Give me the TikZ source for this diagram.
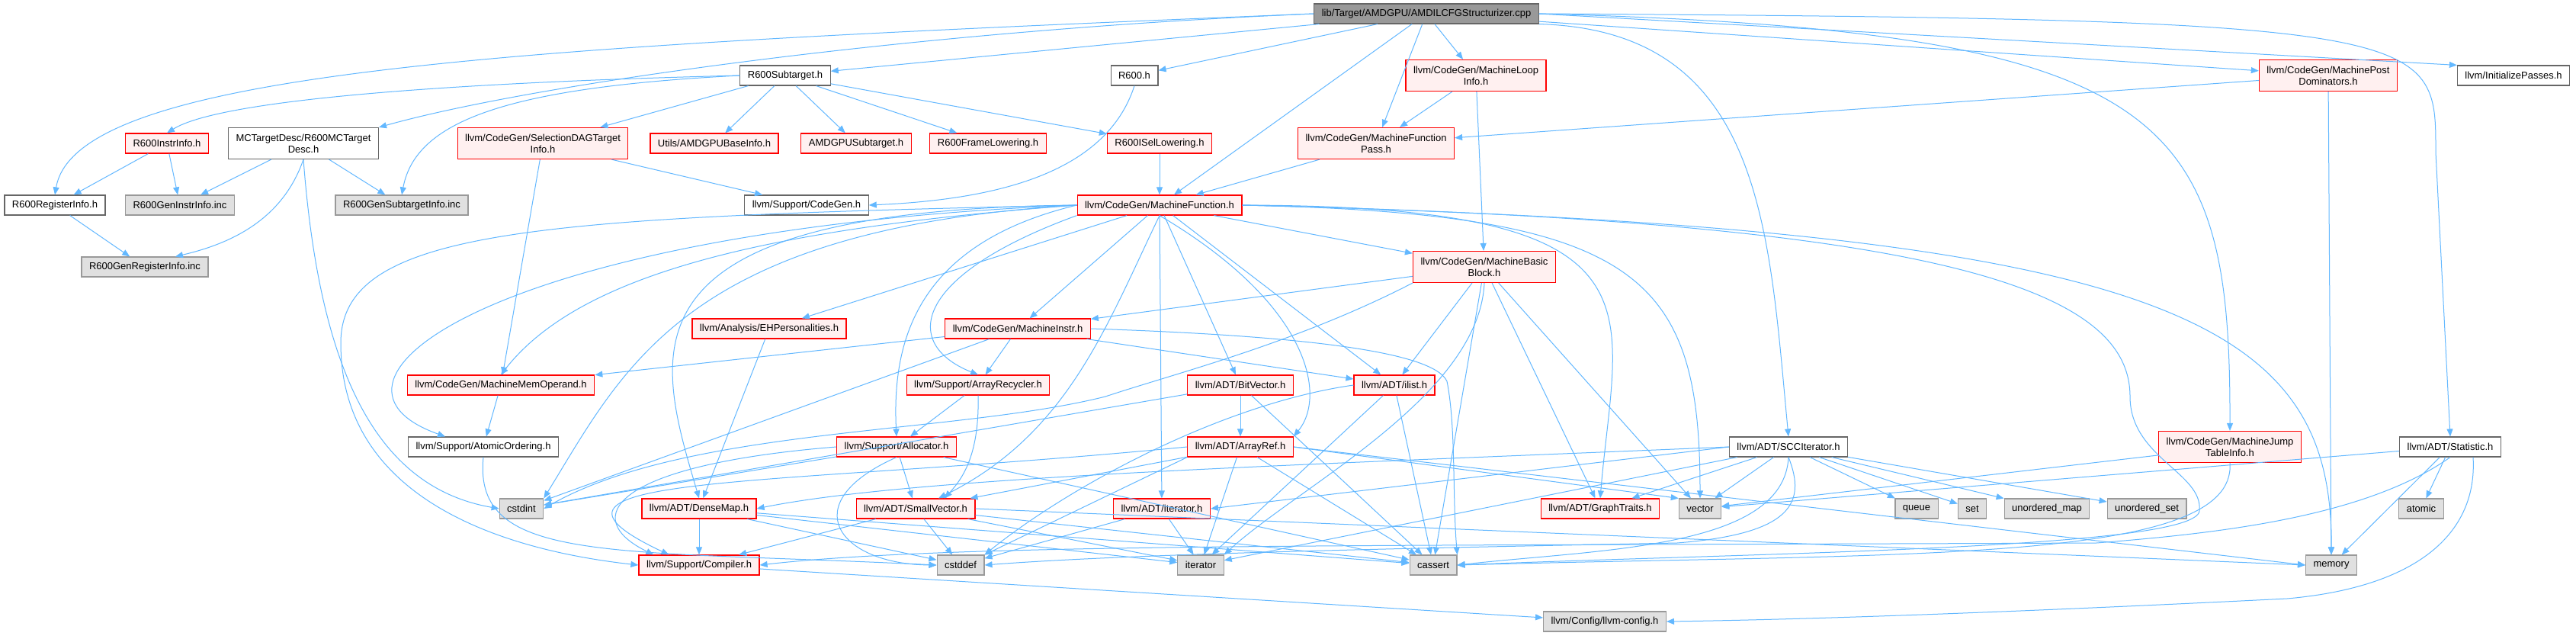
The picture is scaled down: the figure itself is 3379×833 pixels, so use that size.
\documentclass[tikz,border=0pt]{standalone}
\usepackage{fontspec}
\setmainfont{Liberation Sans}
\usetikzlibrary{arrows.meta, calc}
\definecolor{depblue}{HTML}{63B8FF}
\definecolor{hdrred}{HTML}{FF0000}
\definecolor{hdrpink}{HTML}{FFF0F0}
\definecolor{hdrdark}{HTML}{666666}
\definecolor{hdrgray}{HTML}{999999}
\definecolor{hdrlight}{HTML}{E0E0E0}
\newcommand{\hdrfont}{\fontsize{13}{15}\selectfont}

\begin{document}
\begin{tikzpicture}[
    x=1pt, y=-1pt,
    >={Triangle[length=10pt, width=8pt]},
    hdr/.style={rectangle, font=\hdrfont, text=black, align=center,
                minimum height=26pt, inner xsep=10pt, inner ysep=2pt},
    tall/.style={minimum height=41pt},
    redhdr/.style={hdr, draw=hdrred, fill=hdrpink, line width=1.2pt},
    plainhdr/.style={hdr, draw=hdrdark, fill=white, line width=1.1pt},
    syshdr/.style={hdr, draw=hdrgray, fill=hdrlight, line width=1.1pt},
    roothdr/.style={hdr, draw=hdrdark, fill=hdrgray, line width=1.1pt},
    dep/.style={->, draw=depblue, line width=1pt},
  ]

  % ══════════════════════════════════════════════════════
  % Canvas (pixel units, y pointing down)
  % ══════════════════════════════════════════════════════
  \fill[white] (0,0) rectangle (3379,833);
  \useasboundingbox (0,0) rectangle (3379,833);

  % ══════════════════════════════════════════════════════
  % Rank 0-1: source file and its direct includes
  % ══════════════════════════════════════════════════════
  \node[roothdr] (cpp) at (1871,18) {lib/Target/AMDGPU/AMDILCFGStructurizer.cpp};

  \node[plainhdr] (rsub)  at (1030,99) {R600Subtarget.h};
  \node[plainhdr] (r600h) at (1488,99) {R600.h};
  \node[redhdr, tall] (mloop) at (1936,99) {llvm/CodeGen/MachineLoop\\Info.h};
  \node[redhdr, tall] (mpdom) at (3054,99) {llvm/CodeGen/MachinePost\\Dominators.h};
  \node[plainhdr] (initp) at (3297,99) {llvm/InitializePasses.h};

  % ══════════════════════════════════════════════════════
  % Rank 2
  % ══════════════════════════════════════════════════════
  \node[redhdr] (rinstr) at (219,188) {R600InstrInfo.h};
  \node[plainhdr, tall] (mctd) at (398,188) {MCTargetDesc/R600MCTarget\\Desc.h};
  \node[redhdr, tall] (seldag) at (712,188) {llvm/CodeGen/SelectionDAGTarget\\Info.h};
  \node[redhdr] (amdbase) at (937,188) {Utils/AMDGPUBaseInfo.h};
  \node[redhdr] (amdsub)  at (1123,188) {AMDGPUSubtarget.h};
  \node[redhdr] (rframe)  at (1296,188) {R600FrameLowering.h};
  \node[redhdr] (risel)   at (1521,188) {R600ISelLowering.h};
  \node[redhdr, tall] (mfpass) at (1805,188) {llvm/CodeGen/MachineFunction\\Pass.h};

  % ══════════════════════════════════════════════════════
  % Rank 3-4
  % ══════════════════════════════════════════════════════
  \node[plainhdr] (rreg)      at (72,269)   {R600RegisterInfo.h};
  \node[syshdr]   (rgeninstr) at (236,269)  {R600GenInstrInfo.inc};
  \node[syshdr]   (rgensub)   at (527,269)  {R600GenSubtargetInfo.inc};
  \node[plainhdr] (codegen)   at (1058,269) {llvm/Support/CodeGen.h};
  \node[redhdr]   (mfunc)     at (1521,269) {llvm/CodeGen/MachineFunction.h};

  \node[syshdr] (rgenreg) at (190,350) {R600GenRegisterInfo.inc};
  \node[redhdr, tall] (mbb) at (1947,350) {llvm/CodeGen/MachineBasic\\Block.h};

  % ══════════════════════════════════════════════════════
  % Rank 5-7
  % ══════════════════════════════════════════════════════
  \node[redhdr] (ehpers) at (1009,431) {llvm/Analysis/EHPersonalities.h};
  \node[redhdr] (minstr) at (1335,431) {llvm/CodeGen/MachineInstr.h};

  \node[redhdr] (mmo)    at (657,505)  {llvm/CodeGen/MachineMemOperand.h};
  \node[redhdr] (arec)   at (1283,505) {llvm/Support/ArrayRecycler.h};
  \node[redhdr] (bitvec) at (1627,505) {llvm/ADT/BitVector.h};
  \node[redhdr] (ilist)  at (1829,505) {llvm/ADT/ilist.h};

  \node[plainhdr] (atomord) at (634,586)  {llvm/Support/AtomicOrdering.h};
  \node[redhdr]   (alloc)   at (1176,586) {llvm/Support/Allocator.h};
  \node[redhdr]   (aref)    at (1627,586) {llvm/ADT/ArrayRef.h};
  \node[plainhdr] (scc)     at (2346,586) {llvm/ADT/SCCIterator.h};
  \node[redhdr, tall] (mjt) at (2925,586) {llvm/CodeGen/MachineJump\\TableInfo.h};
  \node[plainhdr] (stat)    at (3214,586) {llvm/ADT/Statistic.h};

  % ══════════════════════════════════════════════════════
  % Rank 8-10: leaves
  % ══════════════════════════════════════════════════════
  \node[syshdr] (cstdint) at (684,667)  {cstdint};
  \node[redhdr] (dmap)    at (917,667)  {llvm/ADT/DenseMap.h};
  \node[redhdr] (svec)    at (1201,667) {llvm/ADT/SmallVector.h};
  \node[redhdr] (itrh)    at (1524,667) {llvm/ADT/iterator.h};
  \node[redhdr] (gtraits) at (2099,667) {llvm/ADT/GraphTraits.h};
  \node[syshdr] (vector)  at (2230,667) {vector};
  \node[syshdr] (queue)   at (2514,667) {queue};
  \node[syshdr] (nset)    at (2587,667) {set};
  \node[syshdr] (umap)    at (2685,667) {unordered\_map};
  \node[syshdr] (uset)    at (2816,667) {unordered\_set};
  \node[syshdr] (atomic)  at (3176,667) {atomic};

  \node[redhdr] (compiler) at (917,741)  {llvm/Support/Compiler.h};
  \node[syshdr] (cstddef)  at (1260,741) {cstddef};
  \node[syshdr] (iter)     at (1575,741) {iterator};
  \node[syshdr] (cassert)  at (1880,741) {cassert};
  \node[syshdr] (memory)   at (3058,741) {memory};

  \node[syshdr] (llcfg) at (2105,815) {llvm/Config/llvm-config.h};

  % ══════════════════════════════════════════════════════
  % Includes of the source file
  % ══════════════════════════════════════════════════════
  \draw[dep] (cpp.west) .. controls (700,60) and (100,90) .. (rreg.north);
  \draw[dep] (cpp.west) .. controls (1200,40) and (700,110) .. (mctd.north east);
  \draw[dep] (cpp) -- (rsub);
  \draw[dep] (cpp) -- (r600h);
  \draw[dep] (cpp) -- (mfunc);
  \draw[dep] (cpp) -- (mfpass);
  \draw[dep] (cpp) -- (mloop);
  \draw[dep] (cpp) -- (mpdom);
  \draw[dep] (cpp.east) -- (initp.north west);
  \draw[dep] (cpp.south east) .. controls (2313,40) and (2320,300) .. (scc.north);
  \draw[dep] (cpp.east) .. controls (2850,40) and (2926,150) .. (mjt.north);
  \draw[dep] (cpp.east) .. controls (3200,25) and (3195,40) .. (3195,200) -- (stat.north);

  % ══════════════════════════════════════════════════════
  % Target-side headers
  % ══════════════════════════════════════════════════════
  \draw[dep] (rsub.west) .. controls (600,108) and (290,130) .. (rinstr.north);
  \draw[dep] (rsub.west) .. controls (660,115) and (545,160) .. (rgensub.north);
  \draw[dep] (rsub) -- (seldag);
  \draw[dep] (rsub) -- (amdbase);
  \draw[dep] (rsub) -- (amdsub);
  \draw[dep] (rsub) -- (rframe);
  \draw[dep] (rsub) -- (risel);

  \draw[dep] (rinstr) -- (rreg);
  \draw[dep] (rinstr) -- (rgeninstr);
  \draw[dep] (mctd) -- (rgeninstr);
  \draw[dep] (mctd.south) .. controls (370,290) and (300,320) .. ($(rgenreg.north)+(40,0)$);
  \draw[dep] (mctd) -- (rgensub);
  \draw[dep] (mctd.south) .. controls (420,500) and (500,640) .. (cstdint.west);
  \draw[dep] (rreg) -- (rgenreg);
  \draw[dep] (seldag) -- (codegen);
  \draw[dep] (seldag) -- (mmo);
  \draw[dep] (r600h.south) .. controls (1450,230) and (1300,262) .. (codegen.east);
  \draw[dep] (risel) -- (mfunc);

  % ══════════════════════════════════════════════════════
  % Pass headers
  % ══════════════════════════════════════════════════════
  \draw[dep] (mloop) -- (mfpass);
  \draw[dep] (mloop) -- (mbb);
  \draw[dep] (mfpass) -- (mfunc);
  \draw[dep] (mpdom) -- (mfpass);
  \draw[dep] (mpdom) -- (memory);

  % ══════════════════════════════════════════════════════
  % MachineFunction.h
  % ══════════════════════════════════════════════════════
  \draw[dep] (mfunc) -- (mbb);
  \draw[dep] (mfunc) -- (minstr);
  \draw[dep] (mfunc) -- (ehpers);
  \draw[dep] (mfunc) -- (itrh);
  \draw[dep] (mfunc) -- (bitvec);
  \draw[dep] (mfunc) -- (ilist);
  \draw[dep] (mfunc.west) .. controls (1200,320) and (1170,450) .. (alloc.north);
  \draw[dep] (mfunc.south west) .. controls (1200,360) and (1180,450) .. (arec.north);
  \draw[dep] (mfunc.south) .. controls (1450,430) and (1400,570) .. ($(svec.north)+(30,0)$);
  \draw[dep] (mfunc.south) .. controls (1720,400) and (1740,520) .. (aref.north east);
  \draw[dep] (mfunc.west) .. controls (1000,300) and (760,360) .. (mmo.north);
  \draw[dep] (mfunc.west) .. controls (650,300) and (380,500) .. ($(atomord.north)+(-50,0)$);
  \draw[dep] (mfunc.west) .. controls (900,300) and (820,480) .. (cstdint.north east);
  \draw[dep] (mfunc.west) .. controls (800,275) and (860,460) .. (dmap.north);
  \draw[dep] (mfunc.west) .. controls (700,285) and (447,300) .. (447,450)
    .. controls (447,650) and (650,720) .. (compiler.west);
  \draw[dep] (mfunc.east) .. controls (2200,270) and (2120,400) .. (gtraits.north);
  \draw[dep] (mfunc.east) .. controls (2150,280) and (2230,360) .. (vector.north);
  \draw[dep] (mfunc.east) .. controls (2550,290) and (2794,380) .. (2794,520)
    .. controls (2794,600) and (2890,620) .. (2885,670)
    .. controls (2880,720) and (2300,725) .. (cassert.east);
  \draw[dep] (mfunc.east) .. controls (2850,300) and (3060,420) .. (memory.north);

  % ══════════════════════════════════════════════════════
  % MachineBasicBlock.h, MachineInstr.h
  % ══════════════════════════════════════════════════════
  \draw[dep] (mbb) -- (minstr);
  \draw[dep] (mbb) -- (ilist);
  \draw[dep] (mbb) -- (gtraits);
  \draw[dep] (mbb) -- (vector);
  \draw[dep] (mbb) -- (cassert);
  \draw[dep] (mbb.south) .. controls (1940,520) and (1700,640) .. (iter.north east);
  \draw[dep] (mbb.south west) .. controls (1700,450) and (1540,490) .. (1450,520)
    .. controls (1250,570) and (900,560) .. (cstdint.east);

  \draw[dep] (minstr) -- (mmo);
  \draw[dep] (minstr) -- (arec);
  \draw[dep] (minstr) -- (ilist);
  \draw[dep] (minstr) -- (cstdint);
  \draw[dep] (minstr.east) .. controls (1700,440) and (1880,460) .. (1898,500)
    .. controls (1910,560) and (1905,650) .. (cassert.north east);

  % ══════════════════════════════════════════════════════
  % Support and ADT headers
  % ══════════════════════════════════════════════════════
  \draw[dep] (mmo) -- (atomord);
  \draw[dep] (ehpers) -- (dmap);
  \draw[dep] (arec) -- (alloc);
  \draw[dep] (arec.south) .. controls (1285,600) and (1260,630) .. ($(svec.north)+(38,0)$);

  \draw[dep] (alloc) -- (svec);
  \draw[dep] (alloc) -- (cstdint);
  \draw[dep] (alloc.west) .. controls (800,610) and (760,680) .. ($(compiler.north west)+(20,0)$);
  \draw[dep] (alloc.south) .. controls (1040,660) and (1100,740) .. (cstddef.west);
  \draw[dep] (alloc) -- (cassert);

  \draw[dep] (aref) -- (svec);
  \draw[dep] (aref.west) .. controls (1000,640) and (650,620) .. ($(compiler.north west)+(40,0)$);
  \draw[dep] (aref.south west) -- (cstddef.north east);
  \draw[dep] (aref) -- (iter);
  \draw[dep] (aref) -- (cassert);
  \draw[dep] (aref.east) -- (vector.north west);
  \draw[dep] (aref.east) -- (memory.west);

  \draw[dep] (bitvec) -- (aref);
  \draw[dep] (bitvec) -- (cassert);
  \draw[dep] (bitvec) -- (cstdint);

  \draw[dep] (ilist.west) .. controls (1600,530) and (1400,640) .. (cstddef.north east);
  \draw[dep] (ilist) -- (iter);
  \draw[dep] (ilist) -- (cassert);

  \draw[dep] (dmap) -- (compiler);
  \draw[dep] (dmap) -- (cstddef);
  \draw[dep] (dmap) -- (iter);
  \draw[dep] (dmap) -- (cassert);

  \draw[dep] (svec) -- (compiler);
  \draw[dep] (svec) -- (cstddef);
  \draw[dep] (svec) -- (iter);
  \draw[dep] (svec) -- (cassert);
  \draw[dep] (svec.east) -- (memory.west);

  \draw[dep] (itrh) -- (cstddef);
  \draw[dep] (itrh) -- (iter);
  \draw[dep] (atomord.south) .. controls (620,740) and (800,720) .. (cstddef.west);
  \draw[dep] (compiler) -- (llcfg);

  % ══════════════════════════════════════════════════════
  % SCCIterator.h, MachineJumpTableInfo.h, Statistic.h
  % ══════════════════════════════════════════════════════
  \draw[dep] (scc.west) .. controls (1700,610) and (1200,625) .. (dmap.east);
  \draw[dep] (scc) -- (gtraits);
  \draw[dep] (scc.west) -- (itrh.east);
  \draw[dep] (scc.south) .. controls (2340,720) and (2100,720) .. (cassert.east);
  \draw[dep] (scc.south) .. controls (2370,660) and (2350,700) .. (2200,712)
    .. controls (1900,718) and (1500,725) .. (cstddef.east);
  \draw[dep] (scc) -- (iter);
  \draw[dep] (scc) -- (queue);
  \draw[dep] (scc) -- (nset);
  \draw[dep] (scc) -- (umap);
  \draw[dep] (scc) -- (uset);
  \draw[dep] (scc) -- (vector);

  \draw[dep] (mjt) -- (vector);
  \draw[dep] (mjt.south) .. controls (2935,740) and (2500,725) .. (cassert.east);

  \draw[dep] (stat) -- (vector);
  \draw[dep] (stat) -- (atomic);
  \draw[dep] (stat) -- (memory);
  \draw[dep] (stat.south) .. controls (3100,680) and (2900,700) .. (2750,712)
    .. controls (1800,716) and (1250,712) .. (compiler.east);
  \draw[dep] ($(stat.south)+(30,0)$) .. controls (3250,700) and (3170,770) .. (3000,785)
    .. controls (2700,800) and (2400,812) .. (llcfg.east);

\end{tikzpicture}
\end{document}
